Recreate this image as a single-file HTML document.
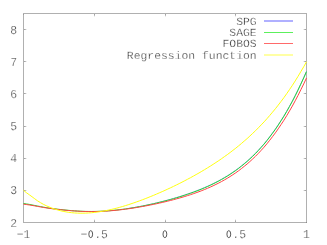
<!DOCTYPE html>
<html><head><meta charset="utf-8"><style>
html,body{margin:0;padding:0;background:#fff;}
svg{display:block}
text{font-family:"Liberation Mono",monospace;font-size:11.4px;fill:#0c0c0c;stroke:#fff;stroke-width:0.36px;text-rendering:geometricPrecision;}
</style></head><body>
<svg width="327" height="245" viewBox="0 0 327 245">
<rect width="327" height="245" fill="#fff"/>
<g shape-rendering="crispEdges">
<rect x="23" y="13" width="284" height="1" fill="#b0b0b0"/>
<rect x="23" y="222" width="284" height="1" fill="#b0b0b0"/>
<rect x="23" y="13" width="1" height="210" fill="#b0b0b0"/>
<rect x="306" y="13" width="1" height="210" fill="#b0b0b0"/>
<rect x="23" y="14" width="1" height="1" fill="#9a9a9a"/><rect x="306" y="222" width="1" height="1" fill="#8c8c8c"/>
<rect x="24" y="190" width="1" height="1" fill="#a4a4a4"/><rect x="25" y="190" width="1" height="1" fill="#bcbcbc"/><rect x="26" y="190" width="1" height="1" fill="#ececec"/><rect x="305" y="190" width="1" height="1" fill="#a4a4a4"/><rect x="304" y="190" width="1" height="1" fill="#bcbcbc"/><rect x="303" y="190" width="1" height="1" fill="#ececec"/><rect x="24" y="158" width="1" height="1" fill="#a4a4a4"/><rect x="25" y="158" width="1" height="1" fill="#bcbcbc"/><rect x="26" y="158" width="1" height="1" fill="#ececec"/><rect x="305" y="158" width="1" height="1" fill="#a4a4a4"/><rect x="304" y="158" width="1" height="1" fill="#bcbcbc"/><rect x="303" y="158" width="1" height="1" fill="#ececec"/><rect x="24" y="126" width="1" height="1" fill="#a4a4a4"/><rect x="25" y="126" width="1" height="1" fill="#bcbcbc"/><rect x="26" y="126" width="1" height="1" fill="#ececec"/><rect x="305" y="126" width="1" height="1" fill="#a4a4a4"/><rect x="304" y="126" width="1" height="1" fill="#bcbcbc"/><rect x="303" y="126" width="1" height="1" fill="#ececec"/><rect x="24" y="93" width="1" height="1" fill="#a4a4a4"/><rect x="25" y="93" width="1" height="1" fill="#bcbcbc"/><rect x="26" y="93" width="1" height="1" fill="#ececec"/><rect x="305" y="93" width="1" height="1" fill="#a4a4a4"/><rect x="304" y="93" width="1" height="1" fill="#bcbcbc"/><rect x="303" y="93" width="1" height="1" fill="#ececec"/><rect x="24" y="61" width="1" height="1" fill="#a4a4a4"/><rect x="25" y="61" width="1" height="1" fill="#bcbcbc"/><rect x="26" y="61" width="1" height="1" fill="#ececec"/><rect x="305" y="61" width="1" height="1" fill="#a4a4a4"/><rect x="304" y="61" width="1" height="1" fill="#bcbcbc"/><rect x="303" y="61" width="1" height="1" fill="#ececec"/><rect x="24" y="29" width="1" height="1" fill="#a4a4a4"/><rect x="25" y="29" width="1" height="1" fill="#bcbcbc"/><rect x="26" y="29" width="1" height="1" fill="#ececec"/><rect x="305" y="29" width="1" height="1" fill="#a4a4a4"/><rect x="304" y="29" width="1" height="1" fill="#bcbcbc"/><rect x="303" y="29" width="1" height="1" fill="#ececec"/>
<rect x="94" y="221" width="1" height="1" fill="#a4a4a4"/><rect x="94" y="220" width="1" height="1" fill="#bcbcbc"/><rect x="94" y="219" width="1" height="1" fill="#ececec"/><rect x="94" y="14" width="1" height="1" fill="#a4a4a4"/><rect x="94" y="15" width="1" height="1" fill="#bcbcbc"/><rect x="94" y="16" width="1" height="1" fill="#ececec"/><rect x="165" y="221" width="1" height="1" fill="#a4a4a4"/><rect x="165" y="220" width="1" height="1" fill="#bcbcbc"/><rect x="165" y="219" width="1" height="1" fill="#ececec"/><rect x="165" y="14" width="1" height="1" fill="#a4a4a4"/><rect x="165" y="15" width="1" height="1" fill="#bcbcbc"/><rect x="165" y="16" width="1" height="1" fill="#ececec"/><rect x="235" y="221" width="1" height="1" fill="#a4a4a4"/><rect x="235" y="220" width="1" height="1" fill="#bcbcbc"/><rect x="235" y="219" width="1" height="1" fill="#ececec"/><rect x="235" y="14" width="1" height="1" fill="#a4a4a4"/><rect x="235" y="15" width="1" height="1" fill="#bcbcbc"/><rect x="235" y="16" width="1" height="1" fill="#ececec"/>
</g>
<g fill="none" stroke-width="1" stroke-linejoin="round">
<polyline stroke="#a8a8ff" points="128.2,208.52 131.0,208.08 133.9,207.61 136.7,207.11 139.5,206.59 142.4,206.04 145.2,205.47 148.0,204.87 150.8,204.24 153.7,203.59 156.5,202.92 159.3,202.23 162.2,201.51 165.0,200.78 167.8,200.02 170.7,199.23 173.5,198.42 176.3,197.59 179.2,196.72 182.0,195.83 184.8,194.92 187.6,193.97 190.5,193.00 193.3,191.99 196.1,190.93 199.0,189.84 201.8,188.70 204.6,187.51 207.4,186.27 210.3,184.98 213.1,183.62 215.9,182.21 218.8,180.72 221.6,179.17 224.4,177.54 227.3,175.83 230.1,174.03 232.9,172.14 235.8,170.16 238.6,168.08 241.4,165.89 244.2,163.58 247.1,161.16 249.9,158.61 252.7,155.94 255.6,153.12 258.4,150.16 261.2,147.05 264.1,143.79 266.9,140.36 269.7,136.76 272.5,132.98 275.4,129.02 278.2,124.87 281.0,120.52 283.9,115.96 286.7,111.19 289.5,106.20 292.4,100.98 295.2,95.53 298.0,89.84 300.8,83.90 303.7,77.70 306.5,71.25"/>
<polyline stroke="#22d832" points="23.5,203.52 26.3,203.92 29.2,204.39 32.0,204.92 34.8,205.47 37.6,206.04 40.5,206.59 43.3,207.12 46.1,207.61 49.0,208.06 51.8,208.47 54.6,208.84 57.5,209.19 60.3,209.51 63.1,209.82 66.0,210.11 68.8,210.37 71.6,210.62 74.4,210.84 77.3,211.03 80.1,211.19 82.9,211.32 85.8,211.40 88.6,211.45 91.4,211.47 94.2,211.44 97.1,211.39 99.9,211.29 102.7,211.16 105.6,210.99 108.4,210.79 111.2,210.56 114.1,210.29 116.9,210.00 119.7,209.67 122.6,209.31 125.4,208.93 128.2,208.52 131.0,208.08 133.9,207.61 136.7,207.12 139.5,206.61 142.4,206.07 145.2,205.51 148.0,204.93 150.8,204.32 153.7,203.69 156.5,203.04 159.3,202.37 162.2,201.67 165.0,200.95 167.8,200.21 170.7,199.44 173.5,198.65 176.3,197.83 179.2,196.98 182.0,196.10 184.8,195.19 187.6,194.25 190.5,193.28 193.3,192.27 196.1,191.21 199.0,190.12 201.8,188.98 204.6,187.79 207.4,186.55 210.3,185.26 213.1,183.90 215.9,182.49 218.8,181.00 221.6,179.45 224.4,177.82 227.3,176.11 230.1,174.31 232.9,172.42 235.8,170.44 238.6,168.36 241.4,166.17 244.2,163.86 247.1,161.44 249.9,158.89 252.7,156.22 255.6,153.40 258.4,150.44 261.2,147.33 264.1,144.07 266.9,140.64 269.7,137.04 272.5,133.26 275.4,129.30 278.2,125.15 281.0,120.80 283.9,116.24 286.7,111.47 289.5,106.48 292.4,101.26 295.2,95.81 298.0,90.12 300.8,84.18 303.7,77.98 306.5,71.53"/>
<polyline stroke="#ff4444" points="23.5,204.15 26.3,204.52 29.2,204.94 32.0,205.41 34.8,205.90 37.6,206.41 40.5,206.92 43.3,207.41 46.1,207.86 49.0,208.29 51.8,208.68 54.6,209.03 57.5,209.36 60.3,209.68 63.1,209.97 66.0,210.25 68.8,210.51 71.6,210.75 74.4,210.96 77.3,211.14 80.1,211.30 82.9,211.41 85.8,211.50 88.6,211.55 91.4,211.56 94.2,211.54 97.1,211.49 99.9,211.40 102.7,211.27 105.6,211.12 108.4,210.93 111.2,210.71 114.1,210.46 116.9,210.18 119.7,209.88 122.6,209.54 125.4,209.18 128.2,208.80 131.0,208.39 133.9,207.96 136.7,207.51 139.5,207.03 142.4,206.53 145.2,206.02 148.0,205.48 150.8,204.92 153.7,204.34 156.5,203.74 159.3,203.12 162.2,202.47 165.0,201.81 167.8,201.12 170.7,200.41 173.5,199.68 176.3,198.92 179.2,198.13 182.0,197.32 184.8,196.47 187.6,195.59 190.5,194.68 193.3,193.73 196.1,192.74 199.0,191.70 201.8,190.63 204.6,189.50 207.4,188.32 210.3,187.08 213.1,185.79 215.9,184.43 218.8,183.00 221.6,181.50 224.4,179.93 227.3,178.28 230.1,176.54 232.9,174.70 235.8,172.78 238.6,170.75 241.4,168.62 244.2,166.38 247.1,164.02 249.9,161.54 252.7,158.94 255.6,156.20 258.4,153.32 261.2,150.30 264.1,147.13 266.9,143.80 269.7,140.32 272.5,136.66 275.4,132.84 278.2,128.84 281.0,124.65 283.9,120.28 286.7,115.71 289.5,110.95 292.4,105.98 295.2,100.80 298.0,95.42 300.8,89.81 303.7,83.99 306.5,77.94"/>
<polyline stroke="#ffff10" points="23.5,190.28 26.3,192.61 29.2,194.70 32.0,196.73 34.8,198.82 37.6,200.86 40.5,202.68 43.3,204.27 46.1,205.67 49.0,206.92 51.8,208.05 54.6,209.04 57.5,209.92 60.3,210.69 63.1,211.34 66.0,211.89 68.8,212.33 71.6,212.68 74.4,212.94 77.3,213.11 80.1,213.19 82.9,213.19 85.8,213.11 88.6,212.96 91.4,212.74 94.2,212.45 97.1,212.10 99.9,211.69 102.7,211.21 105.6,210.68 108.4,210.10 111.2,209.47 114.1,208.79 116.9,208.07 119.7,207.30 122.6,206.49 125.4,205.64 128.2,204.75 131.0,203.82 133.9,202.86 136.7,201.87 139.5,200.85 142.4,199.79 145.2,198.71 148.0,197.60 150.8,196.46 153.7,195.29 156.5,194.09 159.3,192.87 162.2,191.62 165.0,190.35 167.8,189.05 170.7,187.73 173.5,186.38 176.3,185.00 179.2,183.60 182.0,182.16 184.8,180.71 187.6,179.22 190.5,177.70 193.3,176.15 196.1,174.57 199.0,172.96 201.8,171.31 204.6,169.63 207.4,167.91 210.3,166.14 213.1,164.34 215.9,162.50 218.8,160.60 221.6,158.66 224.4,156.67 227.3,154.63 230.1,152.53 232.9,150.37 235.8,148.15 238.6,145.87 241.4,143.52 244.2,141.10 247.1,138.60 249.9,136.03 252.7,133.37 255.6,130.64 258.4,127.81 261.2,124.89 264.1,121.87 266.9,118.75 269.7,115.52 272.5,112.19 275.4,108.74 278.2,105.17 281.0,101.47 283.9,97.65 286.7,93.69 289.5,89.59 292.4,85.34 295.2,80.95 298.0,76.40 300.8,71.69 303.7,66.81 306.5,61.75"/>
</g>
<rect x="264" y="20" width="29" height="2" fill="#b0b0ff"/><rect x="264" y="32" width="29" height="1" fill="#5cf05c"/><rect x="264" y="43" width="29" height="1" fill="#ff6a6a"/><rect x="264" y="54" width="29" height="2" fill="#ffffa4"/>
<g style="filter:grayscale(1)">
<text transform="translate(17.20,226.50) scale(1,1.06)" text-anchor="end">2</text><text transform="translate(17.20,194.35) scale(1,1.06)" text-anchor="end">3</text><text transform="translate(17.20,162.20) scale(1,1.06)" text-anchor="end">4</text><text transform="translate(17.20,130.05) scale(1,1.06)" text-anchor="end">5</text><text transform="translate(17.20,97.90) scale(1,1.06)" text-anchor="end">6</text><text transform="translate(17.20,65.75) scale(1,1.06)" text-anchor="end">7</text><text transform="translate(17.20,33.60) scale(1,1.06)" text-anchor="end">8</text>
<text transform="translate(23.50,238.00) scale(1,1.06)" text-anchor="middle">−1</text><text transform="translate(83.99,238.00) scale(1,1.06)" text-anchor="middle">−</text><ellipse cx="90.73" cy="234.15" rx="1.9" ry="3.5" fill="none" stroke="#3a3a3a" stroke-width="0.85"/><text transform="translate(97.67,238.00) scale(1,1.06)" text-anchor="middle">.</text><text transform="translate(104.51,238.00) scale(1,1.06)" text-anchor="middle">5</text><ellipse cx="164.90" cy="234.15" rx="1.9" ry="3.5" fill="none" stroke="#3a3a3a" stroke-width="0.85"/><ellipse cx="228.81" cy="234.15" rx="1.9" ry="3.5" fill="none" stroke="#3a3a3a" stroke-width="0.85"/><text transform="translate(235.75,238.00) scale(1,1.06)" text-anchor="middle">.</text><text transform="translate(242.59,238.00) scale(1,1.06)" text-anchor="middle">5</text><text transform="translate(306.50,238.00) scale(1,1.06)" text-anchor="middle">1</text>
<text transform="translate(256.70,24.80) scale(1,0.96)" text-anchor="end">SPG</text><text transform="translate(256.70,36.30) scale(1,0.96)" text-anchor="end">SAGE</text><text transform="translate(256.70,47.30) scale(1,0.96)" text-anchor="end">FOBOS</text><text transform="translate(256.70,58.80) scale(1,0.96)" text-anchor="end">Regression function</text></g></svg></body></html>
